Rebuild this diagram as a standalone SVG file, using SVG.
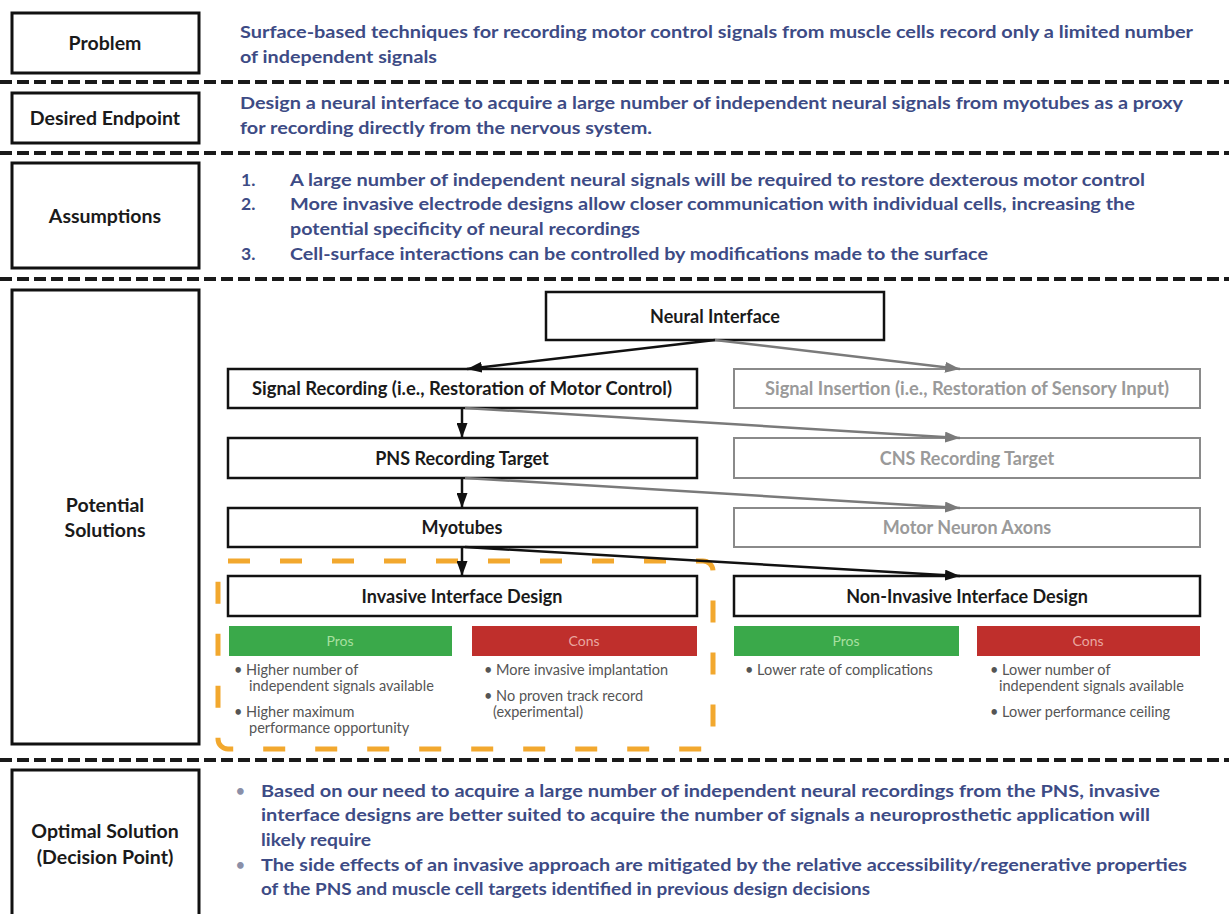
<svg xmlns="http://www.w3.org/2000/svg" width="1229" height="914" viewBox="0 0 1229 914">
<defs>
<style>
.lbl{fill:#fff;stroke:#111;stroke-width:3}
.lt{font-family:Lato,"Liberation Sans",sans-serif;font-weight:bold;font-size:19.5px;fill:#1a1a1a;text-anchor:middle}
.bt{font-family:Lato,"Liberation Sans",sans-serif;font-weight:bold;font-size:17.5px;fill:#3d4b85}
.dot{font-family:Lato,"Liberation Sans",sans-serif;font-weight:bold;font-size:15px;fill:#8a8fa8}
.sep{stroke:#1a1a1a;stroke-width:4;stroke-dasharray:12 5;fill:none}
.nd{fill:#fff;stroke:#111;stroke-width:2.5}
.ndg{fill:#fff;stroke:#8a8a8a;stroke-width:2}
.nt{font-family:Lato,"Liberation Sans",sans-serif;font-weight:bold;font-size:18px;fill:#1a1a1a;text-anchor:middle}
.ntg{font-family:Lato,"Liberation Sans",sans-serif;font-weight:bold;font-size:18px;fill:#9a9a9a;text-anchor:middle}
.ck{stroke:#111;stroke-width:2.5;fill:none}
.cg{stroke:#7a7a7a;stroke-width:2.5;fill:none}
.pro{fill:#3aa94a}
.con{fill:#bf2f2c}
.pt{font-family:Lato,"Liberation Sans",sans-serif;font-size:14px;fill:#a8e0a0;text-anchor:middle}
.ctx{font-family:Lato,"Liberation Sans",sans-serif;font-size:14px;fill:#eaa8a0;text-anchor:middle}
.bl{font-family:Lato,"Liberation Sans",sans-serif;font-size:14.5px;fill:#555}
</style>
<marker id="ak" markerUnits="userSpaceOnUse" markerWidth="15" markerHeight="11" refX="15" refY="5.5" orient="auto"><path d="M0,0 L15,5.5 L0,11 z" fill="#111"/></marker>
<marker id="ag" markerUnits="userSpaceOnUse" markerWidth="15" markerHeight="11" refX="15" refY="5.5" orient="auto"><path d="M0,0 L15,5.5 L0,11 z" fill="#7a7a7a"/></marker>
</defs>
<rect width="1229" height="914" fill="#fff"/>

<g id="separators">
<line class="sep" x1="0" y1="82" x2="1229" y2="82"/>
<line class="sep" x1="0" y1="153" x2="1229" y2="153"/>
<line class="sep" x1="0" y1="279" x2="1229" y2="279"/>
<line class="sep" x1="0" y1="760" x2="1229" y2="760"/>
</g>

<g id="problem">
<rect class="lbl" x="12" y="13" width="187" height="60"/>
<text class="lt" x="105" y="50">Problem</text>
<text class="bt" x="240" y="38" textLength="953" lengthAdjust="spacingAndGlyphs">Surface-based techniques for recording motor control signals from muscle cells record only a limited number</text>
<text class="bt" x="240" y="63" textLength="197" lengthAdjust="spacingAndGlyphs">of independent signals</text>
</g>

<g id="desired">
<rect class="lbl" x="12" y="93" width="187" height="50"/>
<text class="lt" x="105" y="125">Desired Endpoint</text>
<text class="bt" x="240" y="109" textLength="943" lengthAdjust="spacingAndGlyphs">Design a neural interface to acquire a large number of independent neural signals from myotubes as a proxy</text>
<text class="bt" x="240" y="134" textLength="412" lengthAdjust="spacingAndGlyphs">for recording directly from the nervous system.</text>
</g>

<g id="assumptions">
<rect class="lbl" x="12" y="163" width="187" height="105"/>
<text class="lt" x="105" y="223">Assumptions</text>
<text class="bt" x="241" y="186">1.</text>
<text class="bt" x="241" y="210">2.</text>
<text class="bt" x="241" y="260">3.</text>
<text class="bt" x="290" y="186" textLength="855" lengthAdjust="spacingAndGlyphs">A large number of independent neural signals will be required to restore dexterous motor control</text>
<text class="bt" x="290" y="210" textLength="845" lengthAdjust="spacingAndGlyphs">More invasive electrode designs allow closer communication with individual cells, increasing the</text>
<text class="bt" x="290" y="235" textLength="350" lengthAdjust="spacingAndGlyphs">potential specificity of neural recordings</text>
<text class="bt" x="290" y="260" textLength="698" lengthAdjust="spacingAndGlyphs">Cell-surface interactions can be controlled by modifications made to the surface</text>
</g>

<g id="potential-solutions">
<rect class="lbl" x="12" y="290" width="187" height="454"/>
<text class="lt" x="105" y="512">Potential</text>
<text class="lt" x="105" y="537">Solutions</text>
</g>

<g id="optimal">
<rect class="lbl" x="12" y="770" width="187" height="150"/>
<text class="lt" x="105" y="838">Optimal Solution</text>
<text class="lt" x="105" y="864">(Decision Point)</text>
<text class="dot" x="236" y="796">•</text>
<text class="dot" x="236" y="870">•</text>
<text class="bt" x="261" y="797" textLength="899" lengthAdjust="spacingAndGlyphs">Based on our need to acquire a large number of independent neural recordings from the PNS, invasive</text>
<text class="bt" x="261" y="821" textLength="889" lengthAdjust="spacingAndGlyphs">interface designs are better suited to acquire the number of signals a neuroprosthetic application will</text>
<text class="bt" x="261" y="846" textLength="110" lengthAdjust="spacingAndGlyphs">likely require</text>
<text class="bt" x="261" y="871" textLength="926" lengthAdjust="spacingAndGlyphs">The side effects of an invasive approach are mitigated by the relative accessibility/regenerative properties</text>
<text class="bt" x="261" y="895" textLength="609" lengthAdjust="spacingAndGlyphs">of the PNS and muscle cell targets identified in previous design decisions</text>
</g>

<g id="invasive-highlight">
<rect x="218" y="561" width="495" height="188" rx="10" fill="none" stroke="#f2a82e" stroke-width="5" stroke-dasharray="22 30"/>
</g>

<g id="neural-interface">
<rect class="nd" x="546" y="292" width="338" height="48"/>
<text class="nt" x="715" y="323">Neural Interface</text>
</g>
<g id="signal-recording">
<rect class="nd" x="228" y="369" width="469" height="39"/>
<text class="nt" x="462" y="395" textLength="420" lengthAdjust="spacingAndGlyphs">Signal Recording (i.e., Restoration of Motor Control)</text>
</g>
<g id="signal-insertion">
<rect class="ndg" x="734" y="369" width="466" height="39"/>
<text class="ntg" x="967" y="395" textLength="404" lengthAdjust="spacingAndGlyphs">Signal Insertion (i.e., Restoration of Sensory Input)</text>
</g>
<g id="pns">
<rect class="nd" x="228" y="438" width="469" height="40"/>
<text class="nt" x="462" y="464.5">PNS Recording Target</text>
</g>
<g id="cns">
<rect class="ndg" x="734" y="438" width="466" height="40"/>
<text class="ntg" x="967" y="464.5">CNS Recording Target</text>
</g>
<g id="myotubes">
<rect class="nd" x="228" y="508" width="469" height="39"/>
<text class="nt" x="462" y="534">Myotubes</text>
</g>
<g id="motor-neuron-axons">
<rect class="ndg" x="734" y="508" width="466" height="39"/>
<text class="ntg" x="967" y="534">Motor Neuron Axons</text>
</g>
<g id="invasive">
<rect class="nd" x="228" y="576" width="469" height="40"/>
<text class="nt" x="462" y="602.5">Invasive Interface Design</text>
</g>
<g id="non-invasive">
<rect class="nd" x="734" y="576" width="466" height="40"/>
<text class="nt" x="967" y="602.5">Non-Invasive Interface Design</text>
</g>

<g id="invasive-pros">
<rect class="pro" x="229" y="626" width="223" height="30"/>
<text class="pt" x="340" y="646">Pros</text>
<text class="bl" x="234" y="675">• Higher number of</text>
<text class="bl" x="249" y="691">independent signals available</text>
<text class="bl" x="234" y="717">• Higher maximum</text>
<text class="bl" x="249" y="733">performance opportunity</text>
</g>
<g id="invasive-cons">
<rect class="con" x="472" y="626" width="225" height="30"/>
<text class="ctx" x="584" y="646">Cons</text>
<text class="bl" x="484" y="675">• More invasive  implantation</text>
<text class="bl" x="484" y="701">• No proven track record</text>
<text class="bl" x="493" y="717">(experimental)</text>
</g>
<g id="noninvasive-pros">
<rect class="pro" x="734" y="626" width="225" height="30"/>
<text class="pt" x="846" y="646">Pros</text>
<text class="bl" x="745" y="675">• Lower rate of complications</text>
</g>
<g id="noninvasive-cons">
<rect class="con" x="977" y="626" width="223" height="30"/>
<text class="ctx" x="1088" y="646">Cons</text>
<text class="bl" x="990" y="675">• Lower number of</text>
<text class="bl" x="999" y="691">independent signals available</text>
<text class="bl" x="990" y="717">• Lower performance ceiling</text>
</g>

<g id="connectors">
<line class="ck" x1="715" y1="340" x2="467" y2="369" marker-end="url(#ak)"/>
<line class="cg" x1="715" y1="340" x2="960" y2="369" marker-end="url(#ag)"/>
<line class="ck" x1="462" y1="408" x2="462" y2="438" marker-end="url(#ak)"/>
<line class="cg" x1="465" y1="408" x2="960" y2="438" marker-end="url(#ag)"/>
<line class="ck" x1="462" y1="478" x2="462" y2="508" marker-end="url(#ak)"/>
<line class="cg" x1="465" y1="478" x2="960" y2="508" marker-end="url(#ag)"/>
<line class="ck" x1="462" y1="547" x2="462" y2="576" marker-end="url(#ak)"/>
<line class="ck" x1="465" y1="547" x2="960" y2="576" marker-end="url(#ak)"/>
</g>
</svg>
